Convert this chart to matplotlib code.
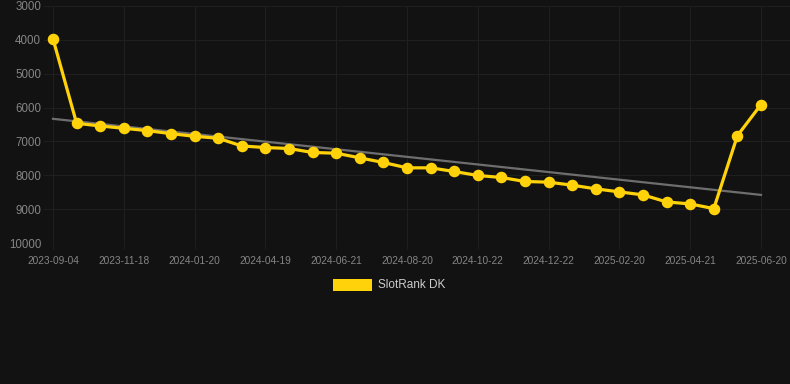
import matplotlib
matplotlib.use("Agg")
import matplotlib.pyplot as plt
import numpy as np

# ---- data ----
tick_labels = ["2023-09-04", "2023-11-18", "2024-01-20", "2024-04-19", "2024-06-21",
               "2024-08-20", "2024-10-22", "2024-12-22", "2025-02-20", "2025-04-21",
               "2025-06-20"]
rank_values = [3970, 6465, 6543, 6612, 6681, 6770, 6848, 6907, 7134, 7180,
               7209, 7327, 7347, 7485, 7622, 7780, 7780, 7888, 8006, 8065,
               8183, 8203, 8292, 8401, 8490, 8579, 8787, 8846, 8984, 6830,
               5911]
series_name = "SlotRank DK"
y_ticks = [3000, 4000, 5000, 6000, 7000, 8000, 9000, 10000]

plt.rcParams['font.family'] = ['Liberation Sans', 'DejaVu Sans']

BG = "#121212"
GRID = "#1f1f1f"
TEXT = "#858585"
YELLOW = "#FFD20A"

W, H = 790, 384
fig = plt.figure(figsize=(W / 100, H / 100), dpi=100, facecolor=BG)
left_px, right_px, top_px, bottom_px = 44, 790, 6, 243
ax = fig.add_axes([left_px / W, 1 - bottom_px / H,
                   (right_px - left_px) / W, (bottom_px - top_px) / H])
ax.set_facecolor(BG)

x = np.arange(len(rank_values))
step = (761 - 53) / 30.0
ax.set_xlim(-(53 - left_px) / step, 30 + (right_px - 761) / step)
ax.set_ylim(10000, 3000)

# trend line (linear regression)
coef = np.polyfit(x, rank_values, 1)
ax.plot(x, np.polyval(coef, x), color="#6e6e6e", lw=1.6, zorder=2)

ax.plot(x, rank_values, color=YELLOW, lw=2.3, marker="o", ms=7.3,
        markerfacecolor=YELLOW, markeredgecolor=YELLOW, zorder=3)

tick_pos = x[::3]
ax.set_xticks(tick_pos)
ax.set_xticklabels(tick_labels[:len(tick_pos)], fontsize=7.3, color=TEXT)
ax.set_yticks(y_ticks)
ax.set_yticklabels([str(v) for v in y_ticks], fontsize=8.3, color=TEXT)

ax.grid(True, color=GRID, lw=0.8)
ax.tick_params(axis="x", length=4, color=GRID, pad=5)
ax.tick_params(axis="y", length=0, pad=2)
for s in ax.spines.values():
    s.set_visible(False)

# legend
fig.patches.append(plt.Rectangle((333 / W, 1 - 291 / H), 39 / W, 12 / H,
                                 transform=fig.transFigure, facecolor=YELLOW,
                                 edgecolor="none"))
fig.text(378 / W, 1 - 285 / H, series_name, color="#cccccc", fontsize=8.5,
         va="center", ha="left")

fig.savefig("out.png", dpi=100, facecolor=BG)
